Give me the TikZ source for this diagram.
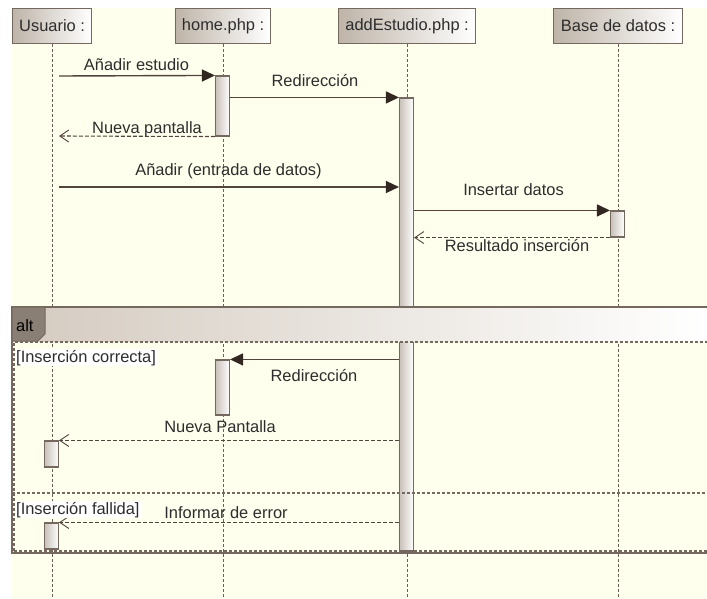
\documentclass[tikz,border=0pt]{standalone}
\usepackage{fontspec}
\setmainfont{Liberation Sans}
\usetikzlibrary{arrows.meta,calc}
\definecolor{bgc}{RGB}{255,255,238}
\definecolor{edge}{RGB}{117,105,95}
\definecolor{headl}{RGB}{190,180,168}
\definecolor{actl}{RGB}{200,192,184}
\definecolor{msg}{RGB}{80,68,60}
\definecolor{tipc}{RGB}{50,40,33}
\definecolor{txt}{RGB}{45,45,45}
\definecolor{life}{RGB}{105,95,85}
\definecolor{tabc}{RGB}{138,127,116}
\definecolor{bandl}{RGB}{212,203,192}
\begin{document}
\begin{tikzpicture}[x=1bp,y=-1bp,
  font=\fontsize{16.5}{19}\selectfont,
  head/.style={draw=edge,line width=1.2bp,left color=headl,right color=white,
    minimum height=35bp,inner sep=0pt,text=txt,anchor=north west},
  act/.style={draw=edge,line width=1.1bp,left color=actl,right color=white,
    minimum width=14bp,inner sep=0pt},
  lifeline/.style={draw=life,line width=1bp,dash pattern=on 3bp off 2bp},
  sync/.style={draw=msg,line width=1.4bp,-{Triangle[length=13bp,width=12bp,fill=tipc,color=tipc]}},
  reply/.style={draw=msg,line width=1.1bp,dash pattern=on 4bp off 2bp,
    -{Straight Barb[length=9bp,width=12bp,line width=0.9bp]}},
  lbl/.style={text=txt,anchor=base,inner sep=0pt},
  guard/.style={text=txt,anchor=base west,fill=white,inner sep=1pt},
  fragline/.style={draw=edge,line width=1.2bp,dash pattern=on 3bp off 2bp}]
\useasboundingbox (0,0) rectangle (707,599);
\fill[white] (0,0) rectangle (707,599);
\fill[bgc] (12,8) rectangle (707,599);
\coordinate (bottom) at (0,599);
% heads
\node[head,minimum width=79bp] (usr) at (12,8) {Usuario :};
\node[head,minimum width=95bp] (home) at (175,8) {home.php :};
\node[head,minimum width=137bp] (add) at (338,8) {addEstudio.php :};
\node[head,minimum width=129bp] (bd) at (553,8) {Base de datos :};
% lifelines
\draw[lifeline] (usr.south) -- (usr.south |- bottom);
\draw[lifeline] (home.south) -- (home.south |- bottom);
\draw[lifeline] (add.south) -- (add.south |- bottom);
\draw[lifeline] (bd.south) -- (bd.south |- bottom);
% activations
\node[act,minimum height=453bp] (a1) at (406.5,324.5) {};
\node[act,minimum height=60bp] (h1) at (222.5,106) {};
\node[act,minimum height=26bp] (b1) at (617.5,224) {};
\node[act,minimum height=55bp] (h2) at (222.5,387.5) {};
\node[act,minimum height=26bp] (u4) at (51.5,454) {};
\node[act,minimum height=26bp] (u5) at (51.5,536) {};
% alt fragment
\shade[left color=bandl,right color=white] (12,307) rectangle (707,341);
\draw[draw=edge,line width=1.4bp] (707,307) -- (12,307) -- (12,553) -- (707,553);
\filldraw[fill=tabc,draw=edge,line width=1bp] (12,307) -- (45,307) -- (45,334) -- (38,341) -- (12,341) -- cycle;
\node[text=black,anchor=base west,inner sep=0pt] (alt) at (16,331) {alt};
\draw[fragline] (14,551) -- (14,342) -- (707,342);
\draw[fragline,line width=1.6bp] (12,493) -- (707,493);
\draw[fragline] (14,551) -- (707,551);
% messages
\coordinate (m1) at (59,76);
\coordinate (m3) at (59,136);
\coordinate (m4) at (59,187);
\draw[sync] (m1) -- (h1.north west);
\draw[sync] (h1.east |- a1.north) -- (a1.north west);
\draw[reply] (h1.south west) -- (m3);
\draw[sync] (m4) -- (a1.west |- m4);
\draw[sync] (a1.east |- b1.north) -- (b1.north west);
\draw[reply] (b1.south west) -- (a1.east |- b1.south);
\draw[sync] (a1.west |- h2.north) -- (h2.north east);
\draw[reply] (a1.west |- u4.north) -- (u4.north east);
\draw[reply] (a1.west |- u5.north) -- (u5.north east);
% labels
\node[lbl] (l1) at (136.5,71) {Añadir estudio};
\node[lbl] (l2) at (315,87) {Redirección};
\node[lbl] (l3) at (147,134) {Nueva pantalla};
\node[lbl] (l4) at (228.5,176) {Añadir (entrada de datos)};
\node[lbl] (l5) at (513.5,196) {Insertar datos};
\node[lbl] (l6) at (517,251) {Resultado inserción};
\node[lbl] (l7) at (314,381) {Redirección};
\node[lbl] (l8) at (220,432) {Nueva Pantalla};
\node[lbl] (l9) at (226,518) {Informar de error};
\node[guard] (g1) at (15,362) {[Inserción correcta]};
\node[guard] (g2) at (15,514) {[Inserción fallida]};
\end{tikzpicture}
\end{document}
